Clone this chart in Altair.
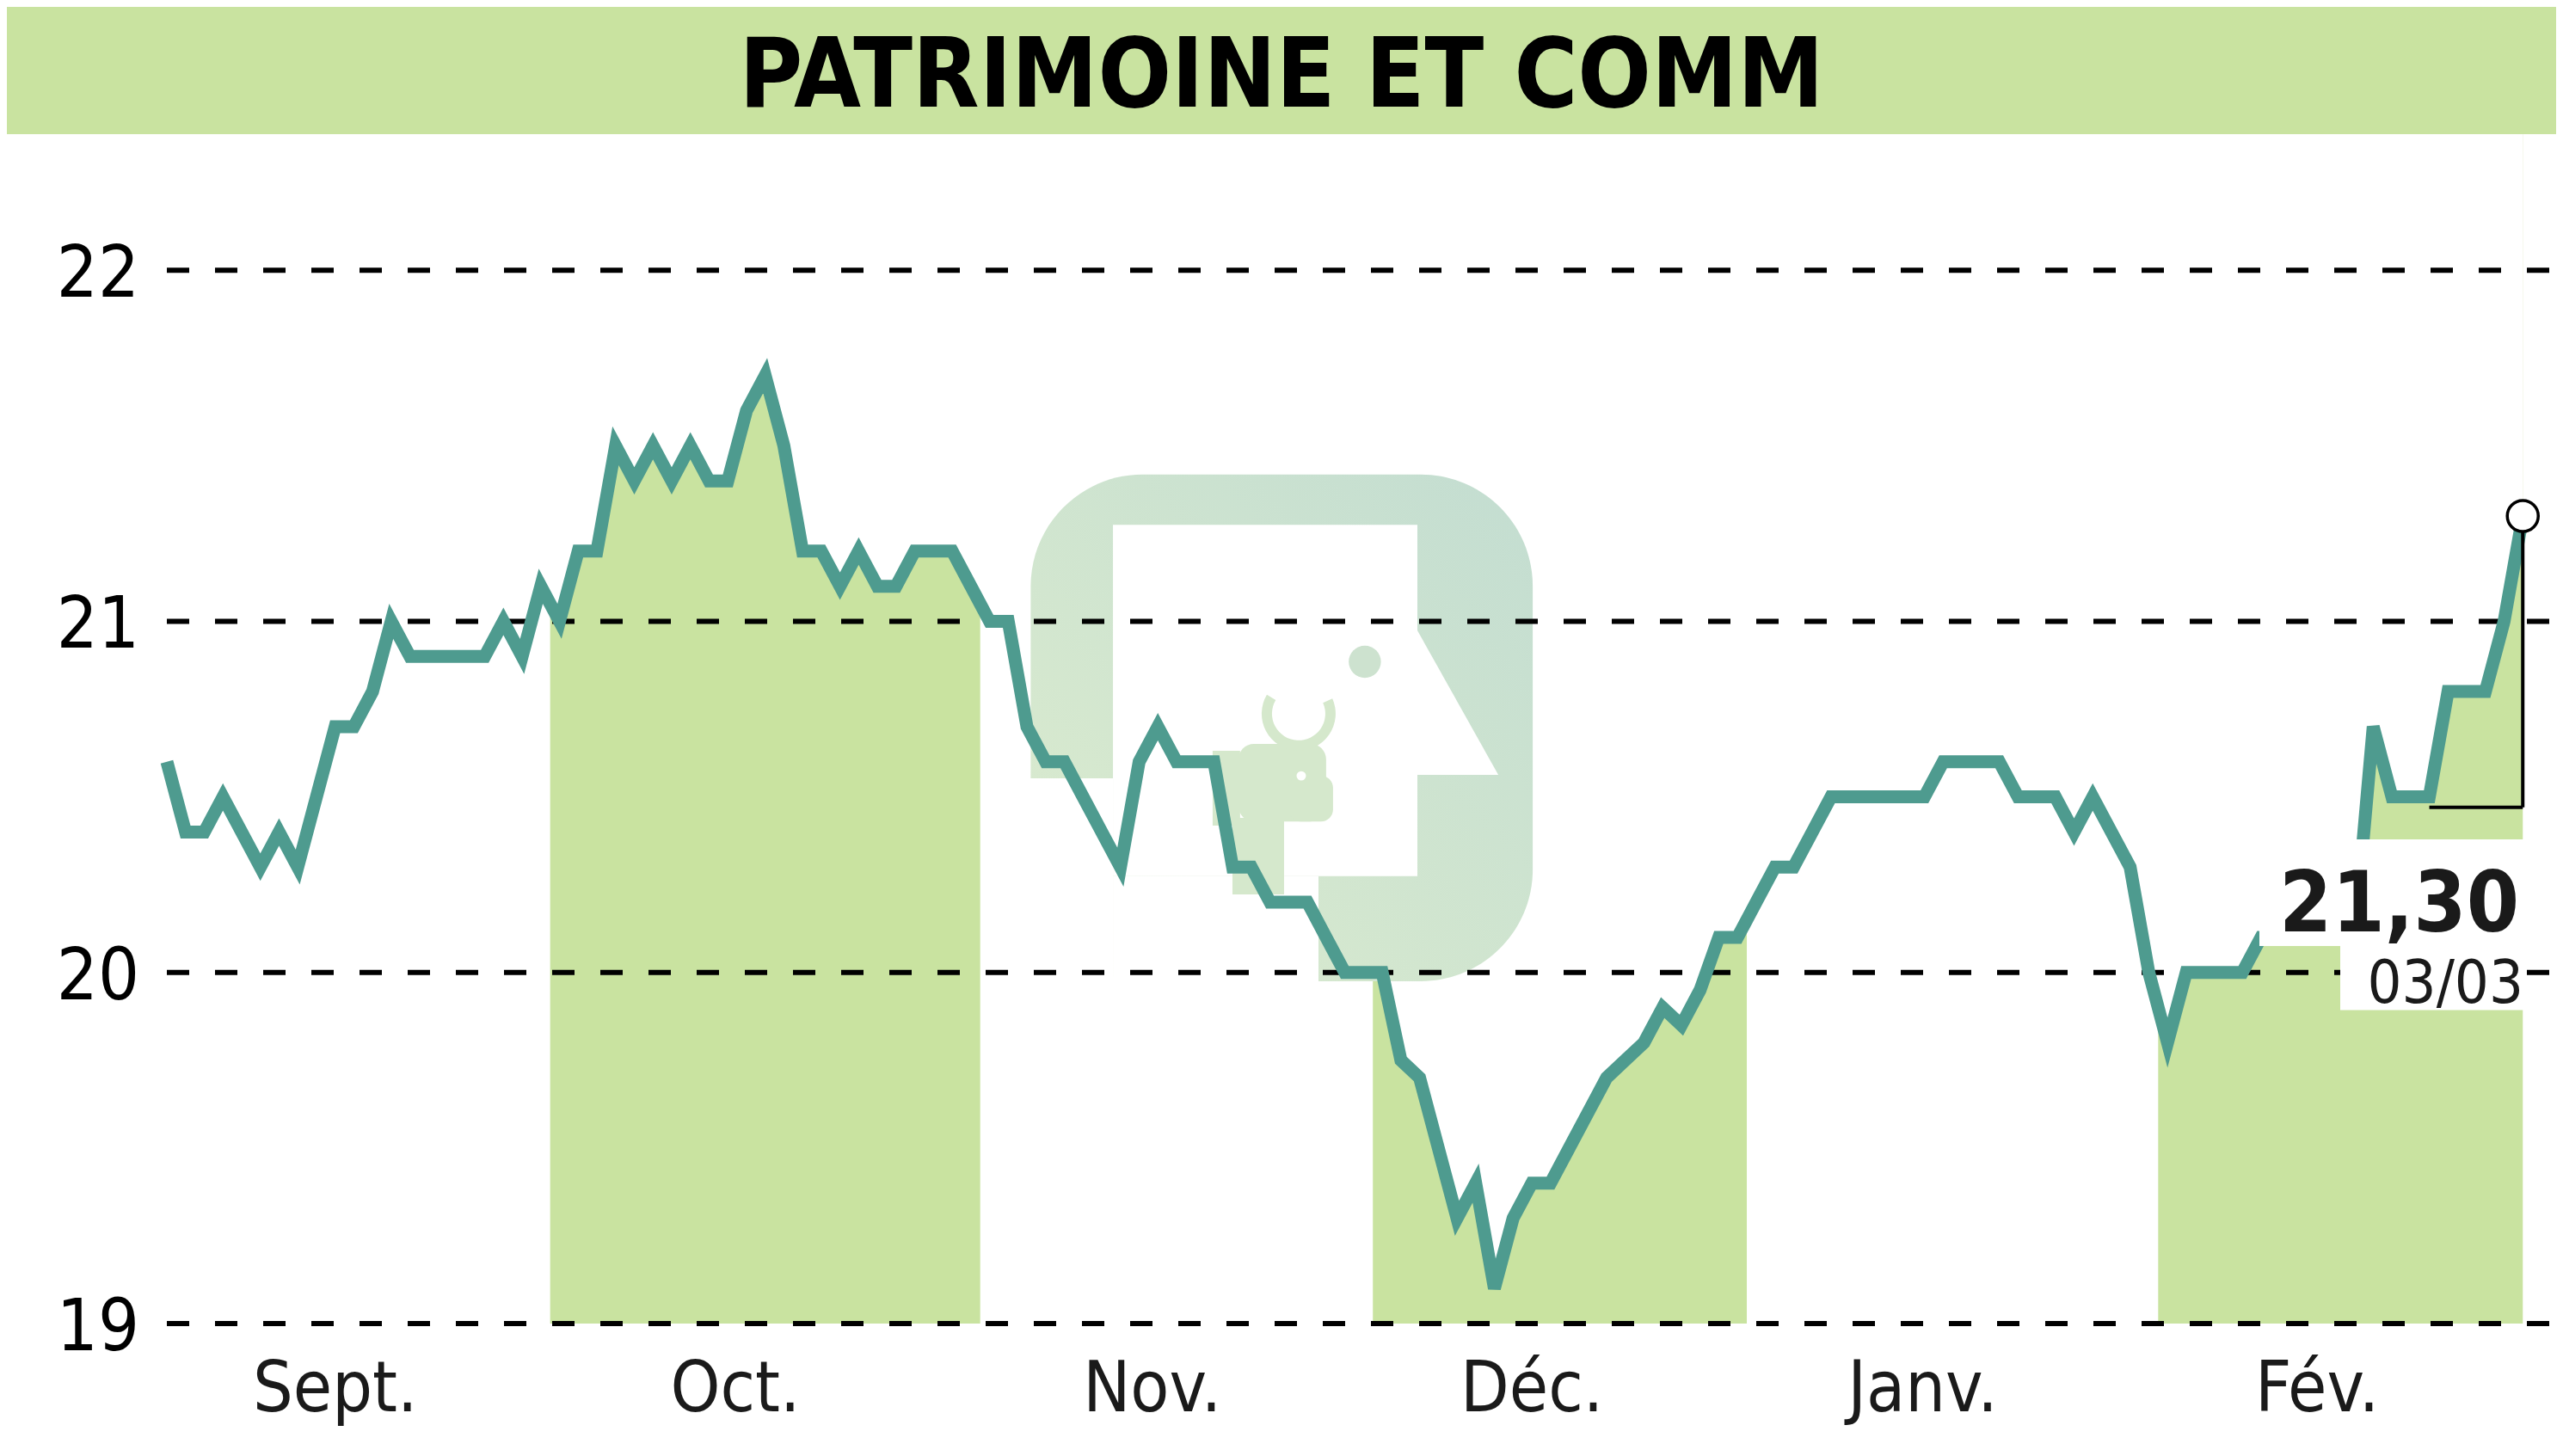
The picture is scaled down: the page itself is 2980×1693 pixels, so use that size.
import altair as alt
import pandas as pd

# ---------------- data ----------------
title_text = "PATRIMOINE ET COMM"

prices = [
    20.6, 20.4, 20.4, 20.5, 20.4, 20.3, 20.4, 20.3, 20.5, 20.7,
    20.7, 20.8, 21.0, 20.9, 20.9, 20.9, 20.9, 20.9, 21.0, 20.9,
    21.1, 21.0, 21.2, 21.2, 21.5, 21.4, 21.5, 21.4, 21.5, 21.4,
    21.4, 21.6, 21.7, 21.5, 21.2, 21.2, 21.1, 21.2, 21.1, 21.1,
    21.2, 21.2, 21.2, 21.1, 21.0, 21.0, 20.7, 20.6, 20.6, 20.5,
    20.4, 20.3, 20.6, 20.7, 20.6, 20.6, 20.6, 20.3, 20.3, 20.2,
    20.2, 20.2, 20.1, 20.0, 20.0, 20.0, 19.75, 19.7, 19.5, 19.3,
    19.4, 19.1, 19.3, 19.4, 19.4, 19.5, 19.6, 19.7, 19.75, 19.8,
    19.9, 19.85, 19.95, 20.1, 20.1, 20.2, 20.3, 20.3, 20.4, 20.5,
    20.5, 20.5, 20.5, 20.5, 20.5, 20.6, 20.6, 20.6, 20.6, 20.5,
    20.5, 20.5, 20.4, 20.5, 20.4, 20.3, 20.0, 19.8, 20.0, 20.0,
    20.0, 20.0, 20.1, 20.1, 20.1, 20.1, 20.1, 20.1, 20.7, 20.5,
    20.5, 20.5, 20.8, 20.8, 20.8, 21.0, 21.3,
]
month_names = ["Sept.", "Oct.", "Nov.", "Déc.", "Janv.", "Fév."]
month_label_pos = [9.0, 30.4, 52.7, 73.0, 93.9, 115.0]
band_start = [20.5, 64.5, 106.5]
band_end = [43.5, 84.5, 126.0]
y_ticks = [19, 20, 21, 22]
last_date_label = "03/03"
bracket_from_index = 121
bracket_level = 20.47

# ---------------- styling ----------------
GREEN = "#c9e3a0"
TEAL = "#4e9b8f"
WM = "#d5e8cc"
FONT = "DejaVu Sans Condensed, DejaVu Sans, sans-serif"
W, H = 2778, 1531
Y_MIN, Y_TOP = 19, 22.75
BAND_TOP = 22.39

n = len(prices)
df = pd.DataFrame({"i": list(range(n)), "v": prices})
last_df = df.tail(1).reset_index(drop=True)
last_label = f"{prices[-1]:.2f}".replace(".", ",")
bands_df = pd.DataFrame({"start": band_start, "end": band_end})
months_df = pd.DataFrame({"name": month_names, "pos": month_label_pos})
ticks_df = pd.DataFrame({"t": y_ticks})
title_df = pd.DataFrame({"label": [title_text]})
value_df = pd.DataFrame({"label": [last_label]})
date_df = pd.DataFrame({"label": [last_date_label]})
one = pd.DataFrame({"k": [0]})

xs = alt.Scale(domain=[0, W / 21.74], nice=False, zero=False)
ys = alt.Scale(domain=[Y_MIN, Y_TOP], nice=False, zero=False)


def box(x0, x1, y0, y1, **mark):
    """Decorative rectangle placed in the chart's own x/y units."""
    return alt.Chart(one).mark_rect(**mark).transform_calculate(
        xa=str(x0), xb=str(x1), ya=str(y0), yb=str(y1)
    ).encode(
        x=alt.X("xa:Q", scale=xs, axis=None), x2="xb:Q",
        y=alt.Y("ya:Q", scale=ys, axis=None), y2="yb:Q",
    )


def dot(cx, cy, **mark):
    return alt.Chart(one).mark_point(**mark).transform_calculate(
        px=str(cx), py=str(cy)
    ).encode(
        x=alt.X("px:Q", scale=xs, axis=None), y=alt.Y("py:Q", scale=ys, axis=None)
    )


bands = alt.Chart(bands_df).mark_rect(color=GREEN).transform_calculate(
    y0=str(Y_MIN), y1=str(BAND_TOP)
).encode(
    x=alt.X("start:Q", scale=xs, axis=None),
    x2="end:Q",
    y=alt.Y("y0:Q", scale=ys, axis=None),
    y2="y1:Q",
)

white_above = alt.Chart(df).mark_area(color="white", opacity=1).transform_calculate(
    top=str(BAND_TOP + 0.02)
).encode(
    x=alt.X("i:Q", scale=xs, axis=None),
    y=alt.Y("v:Q", scale=ys, axis=None),
    y2="top:Q",
)

# ---- faint watermark logo (rounded square, white head profile, bull) ----
wm_grad = alt.LinearGradient(
    gradient="linear",
    stops=[alt.GradientStop(color="#dcecce", offset=0),
           alt.GradientStop(color="#c3ddd1", offset=1)],
    x1=0, y1=1, x2=1, y2=0,
)
wm_square = box(46.2, 73.05, 19.975, 21.418, color=wm_grad, cornerRadius=130)
wm_head = box(50.6, 66.88, 20.274, 21.275, color="white")
wm_neck = box(50.6, 61.59, 19.93, 20.274, color="white")
wm_back = box(45.9, 50.6, 19.95, 20.553, color="white")
wm_face = alt.Chart(pd.DataFrame({"a": [63.71, 71.21], "b": [21.275, 20.563]})).mark_area(
    color="white"
).transform_calculate(base="20.563").encode(
    x=alt.X("a:Q", scale=xs, axis=None),
    y=alt.Y("b:Q", scale=ys, axis=None),
    y2="base:Q",
)
wm_bull_head = box(57.31, 62.0, 20.43, 20.651, color=WM, cornerRadius=18)
wm_bull_snout = box(60.0, 62.37, 20.43, 20.56, color=WM, cornerRadius=14)
wm_bull_neck = box(56.99, 59.75, 20.222, 20.44, color=WM)
wm_bull_shoulder = box(55.93, 57.4, 20.418, 20.631, color=WM)
wm_bull_eye = dot(60.67, 20.56, shape="circle", filled=True, size=120,
                  color="white", opacity=1)
wm_eye = dot(64.07, 20.885, shape="circle", filled=True, size=1400,
             color="#cde2cf", opacity=1)
wm_horns = alt.Chart(one).mark_arc(
    color=WM, radius=43, radius2=31, theta=1.15, theta2=5.25
).transform_calculate(hx="60.53", hy="20.737").encode(
    x=alt.X("hx:Q", scale=xs, axis=None), y=alt.Y("hy:Q", scale=ys, axis=None)
)

# title band drawn as a thick rule
title_band = alt.Chart(one).mark_rule(
    color=GREEN, strokeWidth=148, strokeCap="butt"
).encode(x=alt.value(-186), x2=alt.value(W + 10), y=alt.value(74))

title = alt.Chart(title_df).mark_text(
    font=FONT, fontWeight="bold", fontSize=112,
    align="center", baseline="alphabetic", color="black",
).encode(x=alt.value(1296), y=alt.value(116), text="label:N")

grid = alt.Chart(ticks_df).mark_rule(
    color="black", strokeWidth=6, strokeDash=[26, 30]
).encode(
    y=alt.Y("t:Q", scale=ys, axis=None), x=alt.value(0), x2=alt.value(W)
)

line = alt.Chart(df).mark_line(color=TEAL, strokeWidth=15).encode(
    x=alt.X("i:Q", scale=xs, axis=None),
    y=alt.Y("v:Q", scale=ys, axis=None),
)

box_a = alt.Chart(one).mark_rule(
    color="white", strokeWidth=124, strokeCap="butt"
).encode(x=alt.value(2433), x2=alt.value(2745), y=alt.value(1030))
box_b = alt.Chart(one).mark_rule(
    color="white", strokeWidth=77, strokeCap="butt"
).encode(x=alt.value(2527), x2=alt.value(2743), y=alt.value(1128))

value_text = alt.Chart(value_df).mark_text(
    font=FONT, fontWeight="bold", fontSize=98,
    align="right", baseline="alphabetic", color="#1a1a1a",
).encode(x=alt.value(2735), y=alt.value(1075), text="label:N")
date_text = alt.Chart(date_df).mark_text(
    font=FONT, fontSize=70,
    align="right", baseline="alphabetic", color="#1a1a1a",
).encode(x=alt.value(2740), y=alt.value(1158), text="label:N")

v_rule = alt.Chart(last_df).mark_rule(color="black", strokeWidth=4).transform_calculate(
    lvl=str(bracket_level)
).encode(
    x=alt.X("i:Q", scale=xs, axis=None),
    y=alt.Y("v:Q", scale=ys, axis=None),
    y2="lvl:Q",
)
h_rule = alt.Chart(last_df).mark_rule(color="black", strokeWidth=4).transform_calculate(
    lvl=str(bracket_level), x0=str(bracket_from_index)
).encode(
    x=alt.X("x0:Q", scale=xs, axis=None),
    x2="i:Q",
    y=alt.Y("lvl:Q", scale=ys, axis=None),
)

end_point = alt.Chart(last_df).mark_point(
    shape="circle", size=1300, filled=True, fill="white",
    stroke="black", strokeWidth=3.5, opacity=1,
).encode(
    x=alt.X("i:Q", scale=xs, axis=None),
    y=alt.Y("v:Q", scale=ys, axis=None),
)

y_labels = alt.Chart(ticks_df).mark_text(
    font=FONT, fontSize=84, align="right", baseline="alphabetic",
    dy=31, color="black",
).encode(
    x=alt.value(-32),
    y=alt.Y("t:Q", scale=ys, axis=None),
    text=alt.Text("t:Q", format="d"),
)

x_labels = alt.Chart(months_df).mark_text(
    font=FONT, fontSize=82, align="center", baseline="alphabetic",
    color="#1a1a1a",
).encode(
    x=alt.X("pos:Q", scale=xs, axis=None),
    y=alt.value(1633),
    text="name:N",
)

chart = alt.layer(
    bands, white_above,
    wm_square, wm_head, wm_neck, wm_back, wm_face,
    wm_bull_shoulder, wm_bull_neck, wm_bull_head, wm_bull_snout,
    wm_horns, wm_bull_eye, wm_eye,
    title_band, title, grid, line,
    box_a, box_b, value_text, date_text, v_rule, h_rule, end_point,
    y_labels, x_labels,
).properties(
    width=W, height=H,
    padding={"left": 186, "top": 0, "right": 0, "bottom": 146},
    autosize=alt.AutoSizeParams(type="none"),
).configure_view(stroke=None)

chart.save("out.html", embed_options={"renderer": "svg", "actions": False})
